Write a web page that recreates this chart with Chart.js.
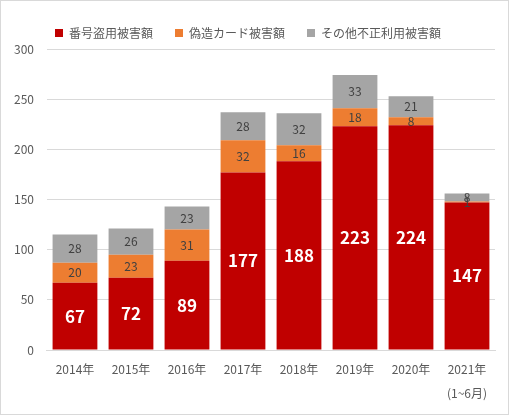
<!DOCTYPE html>
<html lang="ja">
<head>
    <meta charset="UTF-8">
    <title>カード不正利用被害額</title>
    <script src="https://cdn.jsdelivr.net/npm/chart.js@4/dist/chart.umd.min.js"></script>
    <style>
        body { margin: 0; padding: 0; background: #fff; }
        .box {
            width: 509px;
            height: 415px;
            border: 1px solid #d9d9d9;
            box-sizing: border-box;
        }
    </style>
</head>
<body>
    <div class="box">
        <canvas id="fraudChart" width="507" height="413"></canvas>
    </div>

    <script>
        const years = ['2014年', '2015年', '2016年', '2017年', '2018年', '2019年', '2020年', ['2021年', '(1~6月)']];
        const theft = [67, 72, 89, 177, 188, 223, 224, 147];
        const forged = [20, 23, 31, 32, 16, 18, 8, 1];
        const other = [28, 26, 23, 28, 32, 33, 21, 8];

        const fontFamily = '"Noto Sans CJK JP", "Noto Sans", sans-serif';

        // draws the value inside each stacked segment
        const valueLabels = {
            id: 'valueLabels',
            afterDatasetsDraw(chart) {
                const ctx = chart.ctx;
                ctx.save();
                ctx.textAlign = 'center';
                ctx.textBaseline = 'middle';
                chart.data.datasets.forEach((ds, i) => {
                    const meta = chart.getDatasetMeta(i);
                    meta.data.forEach((bar, j) => {
                        const v = ds.data[j];
                        const y = (bar.y + bar.base) / 2;
                        if (i === 0) {
                            ctx.fillStyle = '#ffffff';
                            ctx.font = 'bold 17px ' + fontFamily;
                        } else {
                            ctx.fillStyle = '#404040';
                            ctx.font = '12px ' + fontFamily;
                        }
                        ctx.fillText(v, bar.x, y);
                    });
                });
                ctx.restore();
            }
        };

        new Chart(document.getElementById('fraudChart'), {
            type: 'bar',
            data: {
                labels: years,
                datasets: [
                    { label: '番号盗用被害額', data: theft, backgroundColor: '#C00000' },
                    { label: '偽造カード被害額', data: forged, backgroundColor: '#ED7D31' },
                    { label: 'その他不正利用被害額', data: other, backgroundColor: '#A5A5A5' }
                ]
            },
            options: {
                responsive: false,
                animation: false,
                layout: { padding: { left: 0, right: 13, top: 4, bottom: 10 } },
                datasets: {
                    bar: { categoryPercentage: 1, barPercentage: 0.8 }
                },
                scales: {
                    x: {
                        stacked: true,
                        grid: { display: false },
                        border: { color: '#d9d9d9' },
                        ticks: {
                            color: '#595959',
                            font: { family: fontFamily, size: 12, lineHeight: 2 },
                            maxRotation: 0,
                            padding: -1
                        }
                    },
                    y: {
                        stacked: true,
                        min: 0,
                        max: 300,
                        ticks: {
                            stepSize: 50,
                            color: '#595959',
                            font: { family: fontFamily, size: 12 },
                            padding: 13
                        },
                        grid: { color: '#d9d9d9', drawTicks: false },
                        border: { display: false }
                    }
                },
                plugins: {
                    legend: {
                        position: 'top',
                        labels: {
                            color: '#595959',
                            font: { family: fontFamily, size: 12 },
                            boxWidth: 8,
                            boxHeight: 8,
                            padding: 22
                        }
                    },
                    tooltip: { enabled: false }
                }
            },
            plugins: [valueLabels]
        });
    </script>
</body>
</html>
